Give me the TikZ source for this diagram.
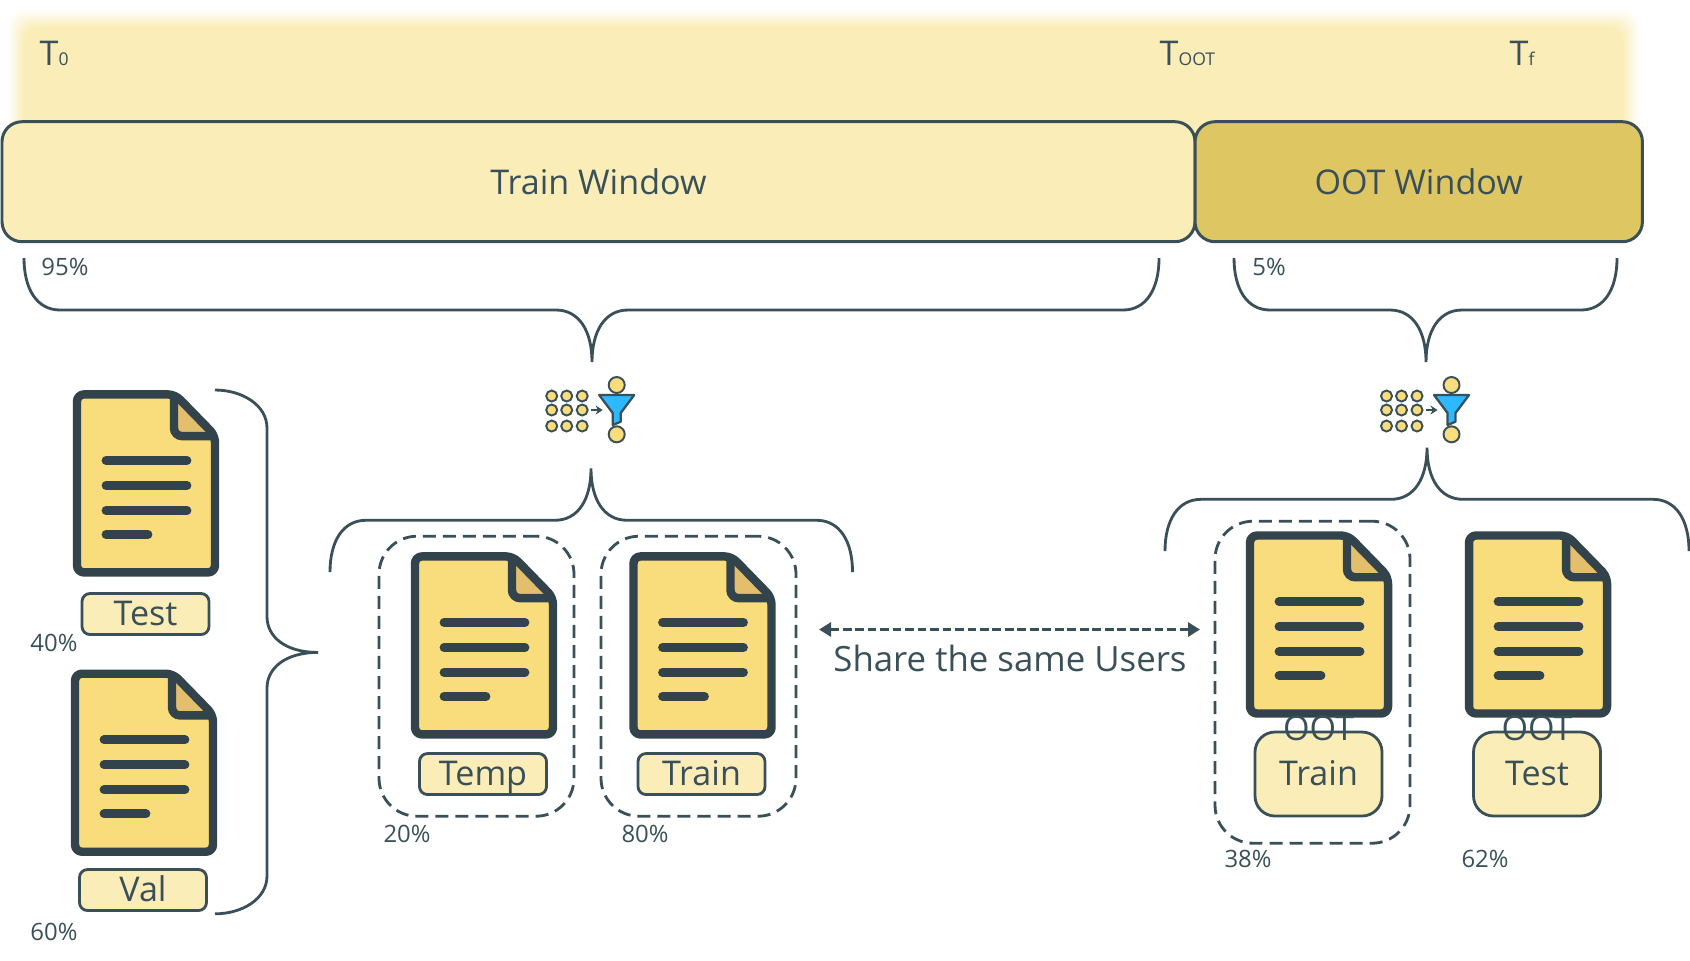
\documentclass[tikz,border=0pt]{standalone}
\usepackage{fontspec}
\setmainfont{Open Sans}
\usepackage{tikz}
\usetikzlibrary{arrows.meta,positioning}
\definecolor{inkdark}{HTML}{3A5059}
\definecolor{docdark}{HTML}{32434B}
\definecolor{bandfill}{HTML}{FBEDB8}
\definecolor{ootfill}{HTML}{DEC663}
\definecolor{docfill}{HTML}{F9DC7B}
\definecolor{docfold}{HTML}{E2BE6D}
\definecolor{funnelblue}{HTML}{2DB9FF}
\newcommand{\bigtext}{\fontsize{9.7}{12.8}\selectfont}
\newcommand{\smalltext}{\fontsize{6.8}{8}\selectfont}
\newcommand{\subtext}{\fontsize{5}{6}\selectfont}
% ends at xa and xb, tip at (xm,ym)
\newcommand{\curlyh}[5]{
  \draw[bracket] (#1,#4) .. controls (#1,{#4+0.6*(#5-#4)/2}) and ({#1+0.13},{(#4+#5)/2}) .. ({#1+0.36},{(#4+#5)/2})
    -- ({#2-0.36},{(#4+#5)/2}) .. controls ({#2-0.13},{(#4+#5)/2}) and (#2,{#5-0.6*(#5-#4)/2}) .. (#2,#5)
    .. controls (#2,{#5-0.6*(#5-#4)/2}) and ({#2+0.13},{(#4+#5)/2}) .. ({#2+0.36},{(#4+#5)/2})
    -- ({#3-0.36},{(#4+#5)/2}) .. controls ({#3-0.13},{(#4+#5)/2}) and (#3,{#4+0.6*(#5-#4)/2}) .. (#3,#4);
}
\tikzset{
  bracket/.style={draw=inkdark,line width=0.8pt},
  windowbox/.style={draw=inkdark,line width=0.85pt,rounded corners=0.2cm,minimum height=1.2cm,text=inkdark,font=\bigtext},
  namebox/.style={draw=inkdark,fill=bandfill,line width=0.8pt,rounded corners=0.08cm,minimum width=1.27cm,minimum height=0.41cm,inner sep=0pt,text=inkdark,font=\bigtext,text height=0.25cm,text depth=0.03cm},
  tallbox/.style={namebox,rounded corners=0.2cm,minimum height=0.84cm,align=center},
  dashbox/.style={draw=inkdark,line width=0.8pt,rounded corners=0.38cm,dash pattern=on 3.7pt off 2pt,minimum width=1.95cm},
  pct/.style={text=inkdark,font=\smalltext,inner sep=0pt},
  tlabel/.style={text=inkdark,font=\bigtext,inner sep=0pt,anchor=base west},
  docicon/.pic={
    \fill[docfill] (-0.69,0.89) -- (0.29,0.89) -- (0.69,0.48) -- (0.69,-0.89) -- (-0.69,-0.89) -- cycle;
    \fill[docfold] (0.28,0.89) -- (0.69,0.48) -- (0.28,0.48) -- cycle;
    \draw[docdark,line width=2.4pt,rounded corners=0.08cm] (0.28,0.89) -- (0.28,0.473) -- (0.69,0.473);
    \draw[docdark,line width=2.4pt,rounded corners=0.07cm,line join=round] (-0.69,0.89) -- (0.29,0.89) -- (0.69,0.48) -- (0.69,-0.89) -- (-0.69,-0.89) -- cycle;
    \draw[docdark,line width=2.5pt,line cap=round] (-0.40,0.23) -- (0.41,0.23);
    \draw[docdark,line width=2.5pt,line cap=round] (-0.40,-0.02) -- (0.41,-0.02);
    \draw[docdark,line width=2.5pt,line cap=round] (-0.40,-0.27) -- (0.41,-0.27);
    \draw[docdark,line width=2.5pt,line cap=round] (-0.40,-0.51) -- (0.02,-0.51);
  },
  funnelicon/.pic={
    \foreach \x in {-0.65,-0.50,-0.345} {
      \foreach \y in {0.14,0,-0.16} {
        \filldraw[fill=docfill,draw=inkdark,line width=0.55pt] (\x,\y) circle (0.055);
      }
    }
    \draw[-{Stealth[length=0.07cm,width=0.09cm]},inkdark,line width=0.6pt] (-0.26,0) -- (-0.14,0);
    \filldraw[fill=docfill,draw=inkdark,line width=0.55pt] (0,0.25) circle (0.08);
    \filldraw[fill=docfill,draw=inkdark,line width=0.55pt] (0,-0.243) circle (0.08);
    \filldraw[fill=funnelblue,draw=inkdark,line width=0.65pt,line join=round] (-0.175,0.15) -- (0.175,0.15) -- (0.04,-0.03) -- (0.04,-0.117) -- (-0.04,-0.15) -- (-0.04,-0.03) -- cycle;
  }
}

\begin{document}
\begin{tikzpicture}
   \useasboundingbox (0,0) rectangle (16.9,-9.6);
   % soft band behind the windows
   \foreach \i in {1,...,10} {
     \pgfmathsetmacro{\mix}{\i*10}
     \fill[bandfill!\mix!white,rounded corners=0.15cm] ({0.07+\i*0.017},{-0.09-\i*0.018}) rectangle ({16.40-\i*0.017},-1.4);
   }
   \node[tlabel] (t0) at (0.39,-0.65) {T{\subtext 0}};
   \node[tlabel] (toot) at (11.59,-0.65) {T{\subtext OOT}};
   \node[tlabel] (tf) at (15.09,-0.65) {T{\subtext f}};

   \node[windowbox,fill=bandfill,minimum width=11.93cm] (trainwin) at (5.985,-1.817) {Train Window};
   \node[windowbox,fill=ootfill,minimum width=4.474cm] (ootwin) at (14.187,-1.817) {OOT Window};

   \curlyh{0.24}{5.92}{11.59}{-2.58}{-3.62}
   \curlyh{12.34}{14.26}{16.17}{-2.58}{-3.62}
   \curlyh{3.30}{5.91}{8.525}{-5.72}{-4.685}
   \curlyh{11.65}{14.27}{16.89}{-5.51}{-4.476}
   \draw[bracket] (2.15,-3.90) .. controls (2.42,-3.90) and (2.67,-4.05) .. (2.67,-4.28) -- (2.67,-6.166)
     .. controls (2.67,-6.365) and (2.85,-6.524) .. (3.18,-6.524) .. controls (2.85,-6.524) and (2.67,-6.683) .. (2.67,-6.881)
     -- (2.67,-8.76) .. controls (2.67,-8.99) and (2.42,-9.138) .. (2.15,-9.138);

   \node[pct] (p95) at (0.65,-2.67) {95\%};
   \node[pct] (p5) at (12.69,-2.67) {5\%};

   \pic at (6.167,-4.10) {funnelicon};
   \pic at (14.515,-4.10) {funnelicon};

   \node[dashbox,minimum height=2.80cm] (tempgroup) at (4.765,-6.762) {};
   \node[dashbox,minimum height=2.80cm] (traingroup) at (6.985,-6.762) {};
   \node[dashbox,minimum height=3.22cm] (ootgroup) at (13.125,-6.822) {};

   \pic at (1.46,-4.834) {docicon};
   \pic at (1.44,-7.627) {docicon};
   \pic at (4.84,-6.454) {docicon};
   \pic at (7.025,-6.454) {docicon};
   \pic at (13.19,-6.245) {docicon};
   \pic at (15.38,-6.245) {docicon};

   \node[namebox] (testname) at (1.455,-6.14) {Test};
   \node[namebox] (valname) at (1.43,-8.90) {Val};
   \node[namebox] (tempname) at (4.83,-7.74) {Temp};
   \node[namebox] (trainname) at (7.015,-7.74) {Train};
   \node[tallbox] (oottrain) at (13.185,-7.74) {OOT\\Train};
   \node[tallbox] (ootest) at (15.37,-7.74) {OOT\\Test};

   \node[pct] (p40) at (0.54,-6.43) {40\%};
   \node[pct] (p60) at (0.54,-9.317) {60\%};
   \node[pct] (p20) at (4.07,-8.343) {20\%};
   \node[pct] (p80) at (6.45,-8.343) {80\%};
   \node[pct] (p38) at (12.48,-8.59) {38\%};
   \node[pct] (p62) at (14.85,-8.59) {62\%};

   \coordinate (sharel) at (8.19,-6.295);
   \coordinate (sharer) at (12.00,-6.295);
   \draw[{Triangle[length=0.12cm,width=0.14cm]}-{Triangle[length=0.12cm,width=0.14cm]},inkdark,line width=1pt,dash pattern=on 2.5pt off 1.05pt] (sharel) -- (sharer);
   \node[text=inkdark,font=\fontsize{9.9}{12.8}\selectfont,inner sep=0pt] (share) at (10.10,-6.585) {Share the same Users};
\end{tikzpicture}
\end{document}
